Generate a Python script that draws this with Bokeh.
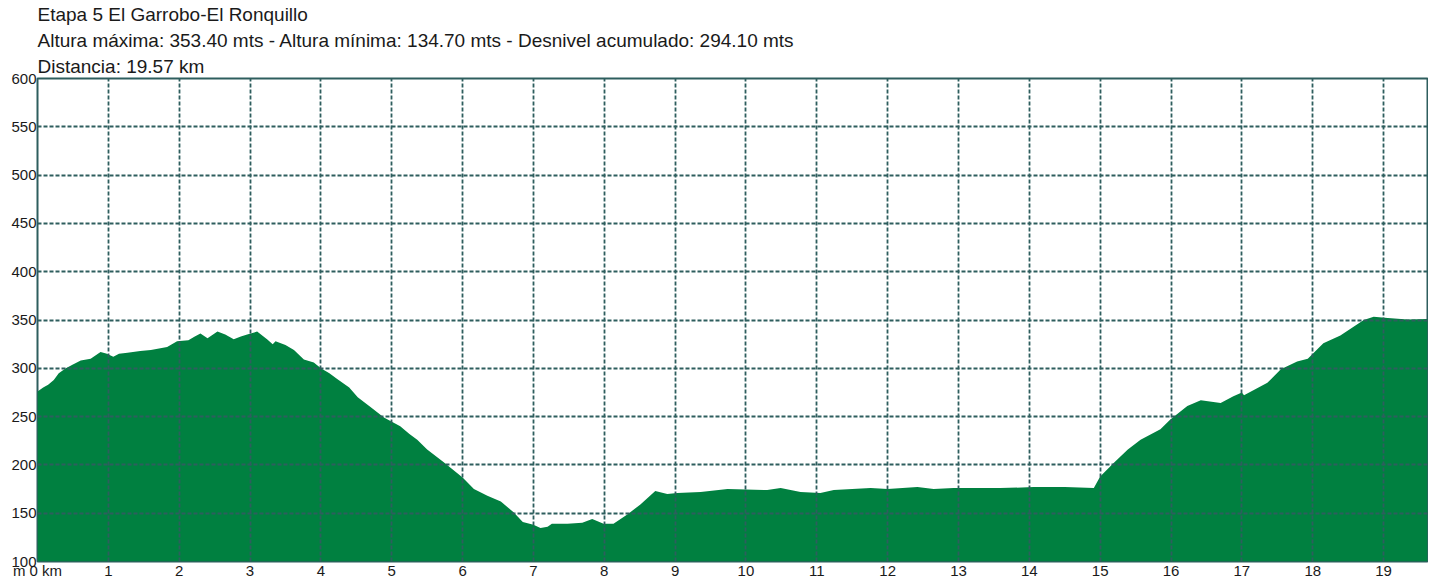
from bokeh.plotting import figure
from bokeh.models import Range1d, FixedTicker, Title
from bokeh.embed import file_html
from bokeh.resources import INLINE

# ---- data ----
km = [0.00, 0.08, 0.15, 0.23, 0.30, 0.40, 0.50, 0.61, 0.75, 0.89, 0.98, 1.07, 1.15, 1.27, 1.45,
      1.60, 1.83, 1.97, 2.13, 2.22, 2.30, 2.40, 2.54, 2.65, 2.77, 2.87, 2.96, 3.10, 3.24, 3.32,
      3.36, 3.50, 3.62, 3.76, 3.90, 4.00, 4.12, 4.23, 4.40, 4.52, 4.70, 4.89, 5.12, 5.25, 5.36,
      5.50, 5.73, 6.00, 6.16, 6.35, 6.54, 6.72, 6.85, 7.00, 7.10, 7.20, 7.26, 7.48, 7.69, 7.83,
      7.99, 8.13, 8.33, 8.51, 8.72, 8.89, 9.03, 9.36, 9.74, 10.30, 10.49, 10.77, 11.05, 11.24,
      11.50, 11.76, 12.00, 12.42, 12.65, 12.93, 13.30, 13.59, 14.06, 14.50, 14.91, 15.00, 15.19,
      15.39, 15.57, 15.85, 15.99, 16.23, 16.42, 16.70, 16.88, 17.00, 17.03, 17.36, 17.55, 17.78,
      17.93, 18.15, 18.39, 18.72, 18.86, 19.06, 19.34, 19.62]
elev = [276, 280, 283, 288, 295, 300, 304, 308, 310, 317, 315, 312, 315, 316, 318,
        319, 322, 328, 329, 333, 336, 331, 338, 335, 330, 333, 335, 338, 330, 325,
        328, 324, 319, 309, 306, 300, 295, 289, 280, 270, 260, 249, 240, 232, 226,
        216, 203, 187, 175, 168, 162, 151, 141, 138, 134.7, 136, 139, 139, 140, 144,
        139, 139, 149, 159, 173, 170, 171, 172, 175, 174, 176, 172, 171, 174,
        175, 176, 175, 177, 175, 176, 176, 176, 177, 177, 176, 188, 202,
        216, 226, 237, 247, 261, 267, 264, 271, 275, 272, 285, 299, 307,
        310, 326, 334, 350, 353.4, 352, 350.5, 351]

y_ticks = [100, 150, 200, 250, 300, 350, 400, 450, 500, 550, 600]
x_ticks = list(range(0, 20))
x_labels = {0: "m 0 km"}
titles = ["Etapa 5 El Garrobo-El Ronquillo",
          "Altura máxima: 353.40 mts - Altura mínima: 134.70 mts - Desnivel acumulado: 294.10 mts",
          "Distancia: 19.57 km"]

FONT = "Liberation Sans"
GRID = "#2e5e5e"

p = figure(width=1428, height=581, output_backend="svg", toolbar_location=None,
           title=None,
           x_range=Range1d(0, 19.62), y_range=Range1d(100, 600),
           min_border_left=37, min_border_right=1, min_border_top=0, min_border_bottom=19)
p.background_fill_color = "white"
p.border_fill_color = "white"
p.outline_line_color = GRID
p.outline_line_width = 2

p.varea(x=km, y1=100, y2=elev, fill_color="#008040")

# axes
p.xaxis.ticker = FixedTicker(ticks=x_ticks)
p.xaxis.major_label_overrides = x_labels
p.yaxis.ticker = FixedTicker(ticks=y_ticks)
for ax in (p.xaxis[0], p.yaxis[0]):
    ax.axis_line_color = None
    ax.major_tick_line_color = None
    ax.minor_tick_line_color = None
    ax.major_tick_out = 0
    ax.major_tick_in = 0
    ax.major_label_text_font = FONT
    ax.major_label_text_font_size = "15px"
    ax.major_label_text_color = "#1a1a1a"
p.xaxis.major_label_standoff = 0
p.yaxis.major_label_standoff = 1
p.yaxis.major_label_text_baseline = "alphabetic"

# grid over the area
p.xgrid.ticker = FixedTicker(ticks=x_ticks[1:])
p.ygrid.ticker = FixedTicker(ticks=y_ticks[1:-1])
for g in (p.xgrid[0], p.ygrid[0]):
    g.grid_line_color = GRID
    g.grid_line_width = 1.8
    g.grid_line_dash = "4 2"
    g.level = "overlay"

# title lines (added nearest-first)
for t in reversed(titles):
    p.add_layout(Title(text=t, align="left", text_font=FONT, text_font_size="19px",
                       text_font_style="normal", text_color="#1a1a1a", standoff=3), "above")

open("out.html", "w").write(file_html(p, INLINE))
